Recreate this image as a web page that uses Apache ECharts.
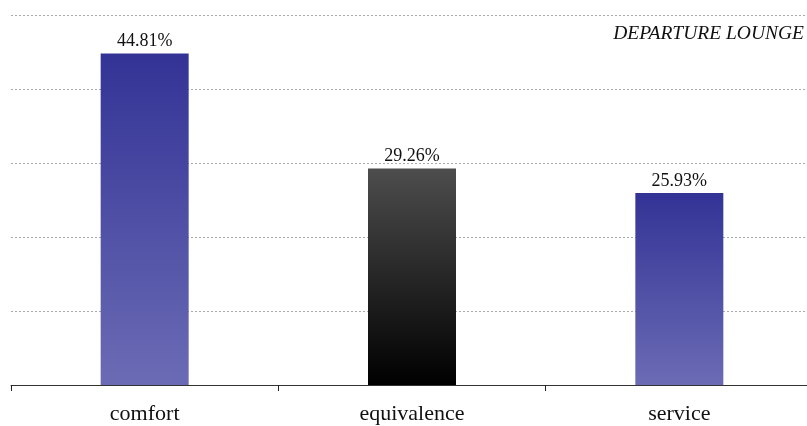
<!DOCTYPE html>
<html>
<head>
<meta charset="utf-8">
<script src="https://cdn.jsdelivr.net/npm/echarts@6/dist/echarts.min.js"></script>
<style>
  html, body { margin: 0; padding: 0; background: #fff; overflow: hidden; }
  #chart { width: 816px; height: 426px; }
</style>
</head>
<body>
<div id="chart"></div>
<script>
// Share of mentions per theme, departure lounge
const categories = ['comfort', 'equivalence', 'service'];
const shares = [44.81, 29.26, 25.93];
const panelTitle = 'DEPARTURE LOUNGE';

const blueFill = new echarts.graphic.LinearGradient(0, 0, 0, 1, [
  { offset: 0, color: '#333396' },
  { offset: 1, color: '#6b6bb5' }
]);
const darkFill = new echarts.graphic.LinearGradient(0, 0, 0, 1, [
  { offset: 0, color: '#4d4d4d' },
  { offset: 1, color: '#000000' }
]);
const fills = [blueFill, darkFill, blueFill];

const chart = echarts.init(document.getElementById('chart'), null, { renderer: 'canvas' });
chart.setOption({
  animation: false,
  backgroundColor: '#ffffff',
  title: {
    text: panelTitle,
    right: 12,
    top: 24,
    padding: 0,
    textStyle: {
      fontFamily: 'Liberation Serif',
      fontStyle: 'italic',
      fontWeight: 'normal',
      fontSize: 19.5,
      color: '#111'
    }
  },
  grid: { left: 11, top: 15, width: 802, height: 370 },
  xAxis: {
    type: 'category',
    data: categories,
    axisLine: { lineStyle: { color: '#333', width: 1 } },
    axisTick: { show: true, length: 6, lineStyle: { color: '#222' } },
    axisLabel: {
      fontFamily: 'Liberation Serif',
      fontSize: 22,
      color: '#111',
      margin: 18
    }
  },
  yAxis: {
    type: 'value',
    min: 0,
    max: 50,
    interval: 10,
    axisLine: { show: false },
    axisTick: { show: false },
    axisLabel: { show: false },
    splitLine: { lineStyle: { color: '#aaa', type: [2, 2], width: 1 } }
  },
  series: [{
    type: 'bar',
    barWidth: 88,
    data: shares.map((v, i) => ({ value: v, itemStyle: { color: fills[i] } })),
    label: {
      show: true,
      position: 'top',
      distance: 3,
      formatter: p => p.value.toFixed(2) + '%',
      fontFamily: 'Liberation Serif',
      fontSize: 18,
      color: '#111'
    }
  }]
});
</script>
</body>
</html>
